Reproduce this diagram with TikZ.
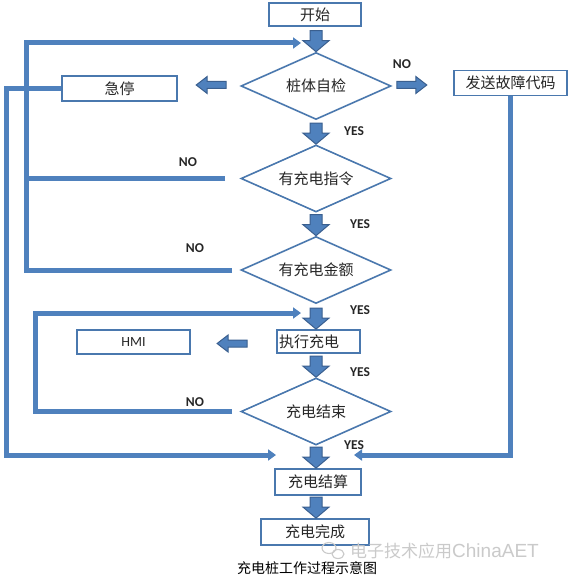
\documentclass[tikz,border=0pt]{standalone}
\usepackage{fontspec}
\usetikzlibrary{shapes.geometric,arrows.meta,calc}
\newfontfamily\cjk{Noto Sans CJK SC}
\newfontfamily\lab{Carlito}
\newfontfamily\wmlat{Liberation Sans}
\definecolor{lineblue}{HTML}{4F81BD}
\definecolor{boxblue}{HTML}{4A78AE}
\definecolor{baline}{HTML}{3A5F8F}
\definecolor{wmgray}{HTML}{CACACA}
\tikzset{
  boxnode/.style={draw=boxblue, line width=1.8pt, fill=white, inner sep=0pt,
    font=\cjk\fontsize{15}{17}\selectfont, text=black!85},
  decide/.style={diamond, draw=boxblue, line width=1.6pt, fill=white, inner sep=0pt,
    aspect=2.2, minimum width=150pt, minimum height=67pt,
    font=\cjk\fontsize{15}{17}\selectfont, text=black!85},
  yn/.style={font=\lab\bfseries\fontsize{13.5}{15}\selectfont, text=black!85, inner sep=0pt},
  loopline/.style={draw=lineblue, line width=5pt},
  looparrow/.style={loopline, -{Triangle[length=8pt,width=11pt]}},
  pics/bav/.style={code={\filldraw[fill=lineblue, draw=baline, line width=1pt]
    (0,0) -- (-11,13) -- (-11,6) -- (-21,6) -- (-21,-6) -- (-11,-6) -- (-11,-13) -- cycle;}},
  pics/bah/.style={code={\filldraw[fill=lineblue, draw=baline, line width=1pt]
    (0,0) -- (-11,8.5) -- (-11,3.5) -- (-30,3.5) -- (-30,-3.5) -- (-11,-3.5) -- (-11,-8.5) -- cycle;}},
}
\begin{document}
\begin{tikzpicture}[x=1pt,y=-1pt]
\useasboundingbox (0,0) rectangle (572,580);
\fill[white] (0,0) rectangle (572,580);

% nodes
\node[boxnode, minimum width=92pt, minimum height=23pt] (start) at (315,14.5) {开始};
\node[decide] (d1) at (316,86) {桩体自检};
\node[boxnode, minimum width=115pt, minimum height=25pt] (stop) at (119.5,88.5) {急停};
\node[boxnode, minimum width=113pt, minimum height=25pt] (fault) at (510.5,83) {发送故障代码};
\node[decide] (d2) at (316,178.5) {有充电指令};
\node[decide] (d3) at (316,270) {有充电金额};
\node[boxnode, minimum width=83pt, minimum height=23pt, text width=79pt, align=left] (exec) at (318.5,341.5) {执行充电};
\node[boxnode, minimum width=113pt, minimum height=24pt, font=\lab\fontsize{14}{16}\selectfont] (hmi) at (133.5,342) {HMI};
\node[decide] (d4) at (316,411.5) {充电结束};
\node[boxnode, minimum width=86pt, minimum height=26pt] (settle) at (318,482) {充电结算};
\node[boxnode, minimum width=108pt, minimum height=26pt] (done) at (315,532) {充电完成};

% labels
\node[yn] (no1) at (402,64) {NO};
\node[yn] (yes1) at (354,131) {YES};
\node[yn] (no2) at (188,162) {NO};
\node[yn] (yes2) at (360,224) {YES};
\node[yn] (no3) at (195,248) {NO};
\node[yn] (yes3) at (360,310) {YES};
\node[yn] (yes4) at (360,372) {YES};
\node[yn] (no4) at (195,402) {NO};
\node[yn] (yes5) at (354,445) {YES};

% helper coordinates for loops
\coordinate (topL) at (26,43);
\coordinate (in1) at (301,43);
\coordinate (midL) at (35,313);
\coordinate (in4) at (301,313);
\coordinate (outerB) at (6,455);
\coordinate (inS) at (276,455);
\coordinate (inR) at (354,455);

% loop lines
\draw[looparrow] ([xshift=-8pt]d3.west) -| (topL) -- (in1);
\draw[loopline] ([xshift=-15pt]d2.west) -- (topL |- d2.west);
\draw[looparrow] ([xshift=-8pt]d4.west) -| (midL) -- (in4);
\draw[looparrow] (stop.west) -| (outerB) -- (inS);
\draw[looparrow] (fault.south) |- (inR);

% block arrows
\pic[rotate=-90] at (d1.north) {bav};
\pic[rotate=-90] at (d2.north) {bav};
\pic[rotate=-90] at (d3.north) {bav};
\pic[rotate=-90] at (d1.north |- exec.north) {bav};
\pic[rotate=-90] at (d4.north) {bav};
\pic[rotate=-90] at (d1.north |- settle.north) {bav};
\pic[rotate=-90] at (d1.north |- done.north) {bav};
\pic[rotate=180] at ([xshift=-44pt,yshift=1pt]d1.west) {bah};
\pic at ([xshift=35pt,yshift=1pt]d1.east) {bah};
\pic[rotate=180] at ([xshift=-59pt,yshift=-2pt]exec.west) {bah};

% watermark
\draw[wmgray, line width=1.1pt] (329,548) ellipse [x radius=7pt, y radius=5.5pt];
\draw[wmgray, line width=1.1pt] (338,554) ellipse [x radius=6pt, y radius=4.5pt];
\node[text=wmgray, inner sep=0pt, anchor=west, font=\cjk\fontsize{17}{19}\selectfont] (wm) at (350,551) {电子技术应用{\wmlat\fontsize{19}{21}\selectfont ChinaAET}};

% caption
\node[inner sep=0pt, font=\cjk\fontsize{14}{16}\selectfont, text=black] (cap) at (307,568) {充电桩工作过程示意图};
\end{tikzpicture}
\end{document}
